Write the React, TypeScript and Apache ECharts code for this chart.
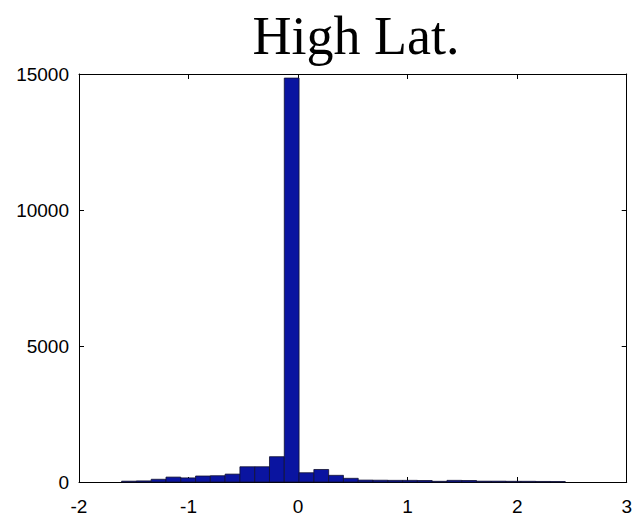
import React, { useEffect, useRef } from "react";
import * as echarts from "echarts";

const titleText = "High Lat.";
const binStart = -1.611;
const binWidth = 0.135;
const counts = [
  30, 40, 100, 180, 150, 220, 230, 290, 560, 560, 930, 14850,
  340, 460, 245, 135, 70, 65, 60, 60, 55, 25, 60, 55, 30, 30, 25, 25, 20, 15,
];
const xTicks = [-2, -1, 0, 1, 2, 3];
const yTicks = [0, 5000, 10000, 15000];

export default function App() {
  const ref = useRef<HTMLDivElement>(null);
  useEffect(() => {
    if (!ref.current) return;
    const chart = echarts.init(ref.current, undefined, { renderer: "svg" });
    const data = counts.map((c, i) => [
      binStart + i * binWidth,
      binStart + (i + 1) * binWidth,
      c,
    ]);
    const tickFont = {
      fontFamily: "Liberation Sans, Arial, sans-serif",
      fontSize: 19,
      color: "#000",
    };
    chart.setOption({
      animation: false,
      backgroundColor: "#fff",
      title: {
        text: titleText,
        left: 351,
        top: 4,
        textAlign: "center",
        textStyle: {
          fontFamily: "Liberation Serif, Times New Roman, serif",
          fontSize: 54,
          fontWeight: "normal",
          color: "#000",
        },
      },
      grid: { left: 79, right: 4, top: 74, bottom: 41 },
      xAxis: [
        {
          type: "value",
          min: xTicks[0],
          max: xTicks[xTicks.length - 1],
          interval: 1,
          position: "bottom",
          axisLine: { show: true, onZero: false, lineStyle: { color: "#000", width: 1 } },
          axisTick: { show: true, inside: true, length: 5, lineStyle: { color: "#000" } },
          axisLabel: { ...tickFont, margin: 15, formatter: (v: number) => String(v) },
          splitLine: { show: false },
        },
        {
          type: "value",
          min: xTicks[0],
          max: xTicks[xTicks.length - 1],
          interval: 1,
          position: "top",
          axisLine: { show: true, onZero: false, lineStyle: { color: "#000", width: 1 } },
          axisTick: { show: true, inside: true, length: 5, lineStyle: { color: "#000" } },
          axisLabel: { show: false },
          splitLine: { show: false },
        },
      ],
      yAxis: [
        {
          type: "value",
          min: yTicks[0],
          max: yTicks[yTicks.length - 1],
          interval: 5000,
          position: "left",
          axisLine: { show: true, onZero: false, lineStyle: { color: "#000", width: 1 } },
          axisTick: { show: true, inside: true, length: 5, lineStyle: { color: "#000" } },
          axisLabel: { ...tickFont, margin: 10, formatter: (v: number) => String(v) },
          splitLine: { show: false },
        },
        {
          type: "value",
          min: yTicks[0],
          max: yTicks[yTicks.length - 1],
          interval: 5000,
          position: "right",
          axisLine: { show: true, onZero: false, lineStyle: { color: "#000", width: 1 } },
          axisTick: { show: true, inside: true, length: 5, lineStyle: { color: "#000" } },
          axisLabel: { show: false },
          splitLine: { show: false },
        },
      ],
      series: [
        {
          type: "custom",
          xAxisIndex: 0,
          yAxisIndex: 0,
          encode: { x: [0, 1], y: 2 },
          data,
          renderItem: (params: any, api: any) => {
            const x0 = api.value(0);
            const x1 = api.value(1);
            const h = api.value(2);
            const p0 = api.coord([x0, h]);
            const p1 = api.coord([x1, 0]);
            return {
              type: "rect",
              shape: {
                x: p0[0],
                y: p0[1],
                width: p1[0] - p0[0],
                height: p1[1] - p0[1],
              },
              style: { fill: "#0A14A0", stroke: "#101030", lineWidth: 0.8 },
            };
          },
        },
      ],
    });
    return () => chart.dispose();
  }, []);
  return (
    <div
      ref={ref}
      style={{ position: "fixed", left: 0, top: 0, width: 635, height: 523 }}
    />
  );
}
